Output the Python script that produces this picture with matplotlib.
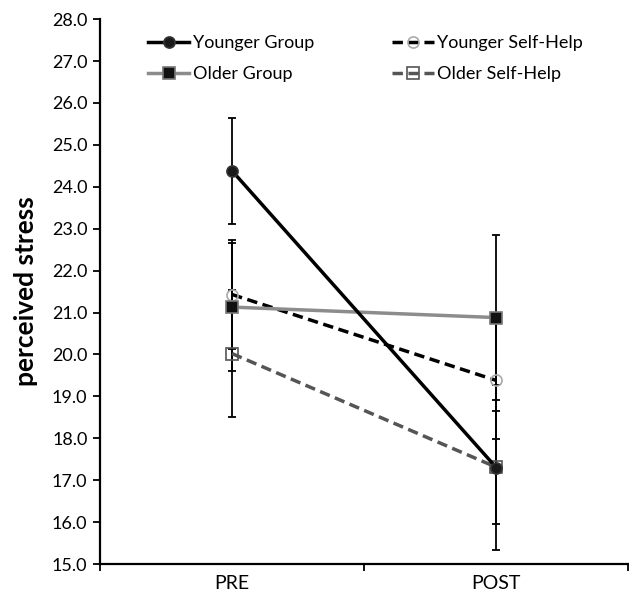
import numpy as np
import matplotlib.pyplot as plt

plt.rcParams['font.family'] = ['Lato', 'DejaVu Sans']

phases = ["PRE", "POST"]
x_pos = [0.5, 1.5]

young_group = [24.38, 17.30]
young_group_err = [1.26, 1.35]
old_group = [21.13, 20.88]
old_group_err = [1.52, 1.96]
young_self = [21.43, 19.38]
young_self_err = [1.29, 1.39]
old_self = [20.02, 17.31]
old_self_err = [1.51, 1.97]

fig = plt.figure(figsize=(6.29, 5.99), dpi=100)
ax = fig.add_axes([0.159, 0.0584, 0.84, 0.9096])

def draw(vals, errs, label, color, ls, marker, mfc, mec, ms, z):
    ax.errorbar(x_pos, vals, yerr=errs, fmt='none', ecolor='black',
                elinewidth=1.3, capsize=3, capthick=1.3, zorder=2)
    ax.plot(x_pos, vals, color=color, linestyle=ls, lw=2.5, marker=marker,
            mfc=mfc, mec=mec, ms=ms, mew=1.2, label=label, zorder=z,
            dashes=(3, 1.6) if ls == '--' else (None, None))

draw(young_group, young_group_err, "Younger Group", 'black', '-', 'o', '#1a1a1a', '#333333', 8, 5)
draw(young_self, young_self_err, "Younger Self-Help", 'black', '--', 'o', 'none', '#aaaaaa', 8, 3)
draw(old_group, old_group_err, "Older Group", '#8c8c8c', '-', 's', '#111111', '#777777', 8, 4)
draw(old_self, old_self_err, "Older Self-Help", '#555555', '--', 's', 'none', '#555555', 8, 3)

ax.set_xlim(0, 2)
ax.set_ylim(15, 28)
ax.set_yticks(np.arange(15, 28.1, 1))
ax.set_yticklabels([f"{v:.1f}" for v in np.arange(15, 28.1, 1)], fontsize=13)
ax.set_xticks([0, 1, 2])
ax.set_xticklabels([])
ax.set_xticks(x_pos, minor=True)
ax.set_xticklabels(phases, minor=True, fontsize=14)
ax.tick_params(axis='x', which='minor', length=0, pad=8)
ax.tick_params(axis='x', which='major', length=5, width=1.3, direction='out')
ax.tick_params(axis='y', length=5, width=1.3, direction='out', pad=4)

for s in ['top', 'right']:
    ax.spines[s].set_visible(False)
for s in ['left', 'bottom']:
    ax.spines[s].set_linewidth(1.6)

ax.set_ylabel("perceived stress", fontsize=19, fontweight='bold', labelpad=10)

handles, labels = ax.get_legend_handles_labels()
order = [0, 2, 1, 3]
ax.legend([handles[i] for i in order], [labels[i] for i in order], ncol=2,
          frameon=False, loc='upper left', bbox_to_anchor=(0.06, 1.0),
          fontsize=13, handlelength=2.3, handletextpad=0.2,
          columnspacing=4.3, labelspacing=0.8, markerscale=1.0)

fig.savefig("out.png", dpi=100)
